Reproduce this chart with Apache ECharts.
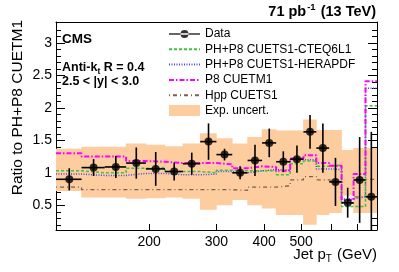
<!DOCTYPE html>
<html><head><meta charset="utf-8">
<script src="https://cdn.jsdelivr.net/npm/echarts@6/dist/echarts.min.js"></script>
<style>html,body{margin:0;padding:0;background:#fff}#c{width:399px;height:272px}</style>
</head><body><div id="c"></div>
<script>
// ---- data (jet pT bins in GeV, ratios) ----
const binEdges = [114,133,153,174,196,220,245,272,300,330,362,395,430,468,507,548,592,638,686,737,790];
const dataRatio = [0.90,1.08,1.09,1.15,1.06,1.02,1.14,1.48,1.28,1.00,1.19,1.46,1.17,1.21,1.63,1.38,0.86,0.54,0.89,0.63];
const dataErr   = [0.17,0.13,0.17,0.24,0.26,0.14,0.17,0.28,0.09,0.10,0.24,0.22,0.16,0.21,0.26,0.38,0.37,0.23,0.66,1.00];
const bandHigh  = [1.37,1.40,1.40,1.45,1.43,1.41,1.45,1.61,1.53,1.45,1.55,1.67,1.65,1.65,1.82,1.66,1.66,1.35,1.38,1.38];
const bandLow   = [0.72,0.62,0.62,0.60,0.61,0.62,0.60,0.43,0.50,0.58,0.50,0.45,0.35,0.35,0.20,0.35,0.38,0.65,0.38,0.38];
const cteq      = [1.03,1.00,1.00,1.07,1.08,1.02,1.02,1.00,1.04,1.03,1.03,1.03,0.97,1.14,1.18,1.10,1.12,0.48,0.48,2.03];
const hera      = [0.98,0.96,0.96,0.99,0.99,0.97,0.97,0.98,1.02,1.00,1.03,1.05,1.04,1.20,1.20,1.06,1.05,0.60,0.63,2.30];
const p8        = [1.30,1.25,1.25,1.18,1.17,1.15,1.15,1.15,1.13,1.07,1.10,1.09,1.03,1.22,1.27,1.15,1.11,0.58,0.98,2.41];
const hpp       = [0.78,0.74,0.74,0.74,0.74,0.74,0.74,0.74,0.74,0.73,0.78,0.78,0.80,0.89,0.94,0.89,0.86,0.53,0.63,0.90];
const xLabelValues = [200,300,400,500];
const xTickValues  = [200,300,400,500,600,700];
const yLabelValues = [0.5,1,1.5,2,2.5,3];
const yMinorValues = [0.2,0.3,0.4,0.6,0.7,0.8,0.9,1.1,1.2,1.3,1.4,1.6,1.7,1.8,1.9,2.1,2.2,2.3,2.4,2.6,2.7,2.8,2.9,3.1,3.2];
const legendNames = ['Data','PH+P8 CUETS1-CTEQ6L1','PH+P8 CUETS1-HERAPDF','P8 CUETM1','Hpp CUETS1','Exp. uncert.'];

const F = '"Liberation Sans", Arial, Helvetica, sans-serif';
const lg = v => Math.log10(v);
const X0 = lg(binEdges[0]), X1 = lg(binEdges[binEdges.length-1]);
const YMIN = 0.12, YMAX = 3.32;

function stepPoints(vals){
  const pts = vals.map((v,i)=>[lg(binEdges[i]), v]);
  pts.push([lg(binEdges[binEdges.length-1]), vals[vals.length-1]]);
  return pts;
}
const bins = dataRatio.map((v,i)=>({lo:binEdges[i], hi:binEdges[i+1]}));
const noSym = {color:'rgba(0,0,0,0)', borderColor:'rgba(0,0,0,0)', borderWidth:0};

const chart = echarts.init(document.getElementById('c'), null, {renderer:'canvas'});
const yCommon = {type:'value', min:YMIN, max:YMAX, splitLine:{show:false}, gridIndex:0};
const option = {
  animation:false,
  backgroundColor:'#fff',
  grid:{left:56, right:22, top:22, bottom:42, containLabel:false, outerBoundsMode:'none'},
  xAxis:[
    {type:'value', min:X0, max:X1, position:'bottom',
     axisLine:{show:true, onZero:false, lineStyle:{color:'#000', width:1}},
     axisTick:{show:true, inside:true, length:6, customValues:xTickValues.map(lg), lineStyle:{color:'#000'}},
     axisLabel:{show:true, customValues:xLabelValues.map(lg), formatter:v=>String(Math.round(Math.pow(10,v))),
       color:'#000', fontSize:14, fontFamily:F, margin:5},
     splitLine:{show:false}},
    {type:'value', min:X0, max:X1, position:'top',
     axisLine:{show:true, onZero:false, lineStyle:{color:'#000', width:1}},
     axisTick:{show:false}, axisLabel:{show:false}, splitLine:{show:false}}
  ],
  yAxis:[
    Object.assign({}, yCommon, {position:'left',
      axisLine:{show:true, onZero:false, lineStyle:{color:'#000'}},
      axisTick:{show:true, inside:true, length:9, customValues:yLabelValues, lineStyle:{color:'#000'}},
      axisLabel:{show:true, customValues:yLabelValues, color:'#000', fontSize:14, fontFamily:F, margin:4}}),
    Object.assign({}, yCommon, {position:'left',
      axisLine:{show:false},
      axisTick:{show:true, inside:true, length:5, customValues:yMinorValues, lineStyle:{color:'#000'}},
      axisLabel:{show:false}}),
    Object.assign({}, yCommon, {position:'right',
      axisLine:{show:true, onZero:false, lineStyle:{color:'#000'}},
      axisTick:{show:true, inside:true, length:9, customValues:yLabelValues, lineStyle:{color:'#000'}},
      axisLabel:{show:false}}),
    Object.assign({}, yCommon, {position:'right',
      axisLine:{show:false},
      axisTick:{show:true, inside:true, length:5, customValues:yMinorValues, lineStyle:{color:'#000'}},
      axisLabel:{show:false}})
  ],
  legend:{
    orient:'vertical', left:168, top:28, padding:0, itemWidth:31, itemHeight:11, itemGap:3.3,
    textStyle:{fontSize:12, fontFamily:F, color:'#000', lineHeight:11},
    selectedMode:false,
    data:[
      {name:legendNames[0], icon:'path://M0,0h0.05v0.05h-0.05z M0,11h0.05v-0.05h-0.05z M0,4.8h31v1.4h-31z M11.5,5.5a4,4 0 1,0 8,0a4,4 0 1,0 -8,0z'},
      {name:legendNames[1], itemStyle:noSym},{name:legendNames[2], itemStyle:noSym},
      {name:legendNames[3], itemStyle:noSym},{name:legendNames[4], itemStyle:noSym},
      {name:legendNames[5], icon:'rect'}
    ]
  },
  series:[
    {type:'custom', name:legendNames[5], xAxisIndex:0, yAxisIndex:0, z:1, clip:true,
     itemStyle:{color:'#fdcc9f'},
     data: bins.map((b,i)=>[lg(b.lo), lg(b.hi), bandLow[i], bandHigh[i]]),
     encode:{x:[0,1], y:[2,3]},
     renderItem:(params, api)=>{
       const a = api.coord([api.value(0), api.value(3)]);
       const b = api.coord([api.value(1), api.value(2)]);
       return {type:'rect', shape:{x:a[0]-0.3, y:a[1], width:b[0]-a[0]+0.6, height:b[1]-a[1]},
               style:{fill:'#fdcc9f'}};
     }},
    {type:'line', name:legendNames[4], step:'end', symbol:'none', z:3, data:stepPoints(hpp),
     lineStyle:{color:'#7d5f4f', width:1.3, type:[1,3,4,3]}, itemStyle:{color:'#7d5f4f'}},
    {type:'line', name:legendNames[2], step:'end', symbol:'none', z:3, data:stepPoints(hera),
     lineStyle:{color:'#4a4aee', width:1.5, type:[1,1.5]}, itemStyle:{color:'#4a4aee'}},
    {type:'line', name:legendNames[1], step:'end', symbol:'none', z:3, data:stepPoints(cteq),
     lineStyle:{color:'#3ec43e', width:1.5, type:[3,2]}, itemStyle:{color:'#3ec43e'}},
    {type:'line', name:legendNames[3], step:'end', symbol:'none', z:4, data:stepPoints(p8),
     lineStyle:{color:'#ff00ff', width:2, type:[5,2,1.5,2]}, itemStyle:{color:'#ff00ff'}},
    {type:'custom', name:'DataErr', z:8, clip:true,
     data: bins.map((b,i)=>[lg(b.lo), lg(b.hi), lg((b.lo+b.hi)/2), dataRatio[i], dataErr[i]]),
     encode:{x:[0,1], y:3},
     renderItem:(params, api)=>{
       const x0=api.value(0), x1=api.value(1), xc=api.value(2), y=api.value(3), e=api.value(4);
       const a=api.coord([x0,y]), b=api.coord([x1,y]), t=api.coord([xc,y+e]), d=api.coord([xc,Math.max(y-e,YMIN)]);
       return {type:'group', children:[
         {type:'line', shape:{x1:a[0],y1:a[1],x2:b[0],y2:b[1]}, style:{stroke:'#000', lineWidth:1.6}},
         {type:'line', shape:{x1:t[0],y1:t[1],x2:d[0],y2:d[1]}, style:{stroke:'#000', lineWidth:1.6}}
       ]};
     }},
    {type:'scatter', name:legendNames[0], z:10, symbol:'circle', symbolSize:8,
     itemStyle:{color:'#000'},
     data: bins.map((b,i)=>[lg((b.lo+b.hi)/2), dataRatio[i]])}
  ],
  graphic:[
    {type:'text', x:376, y:12, style:{text:'{b|71 pb}{p|-1}{b| (13 TeV)}', align:'right', textAlign:'right', verticalAlign:'middle', textVerticalAlign:'middle',
      rich:{b:{fontSize:14.5, fontWeight:'bold', fontFamily:F, fill:'#000'}, p:{fontSize:9.5, fontWeight:'bold', fontFamily:F, fill:'#000', padding:[0,1,9,1]}}}},
    {type:'text', x:62, y:39, style:{text:'CMS', font:'bold 13.5px '+F, fill:'#000', align:'left', verticalAlign:'middle', textVerticalAlign:'middle'}},
    {type:'text', x:62, y:68, style:{text:'{b|Anti-k}{s|t}{b| R = 0.4}', align:'left', verticalAlign:'middle', textVerticalAlign:'middle',
      rich:{b:{fontSize:12.5, fontWeight:'bold', fontFamily:F, fill:'#000'}, s:{fontSize:8.5, fontWeight:'bold', fontFamily:F, fill:'#000', padding:[8,0,0,0]}}}},
    {type:'text', x:62, y:82, style:{text:'2.5 < |y| < 3.0', font:'bold 12.5px '+F, fill:'#000', align:'left', verticalAlign:'middle', textVerticalAlign:'middle'}},
    {type:'text', x:377, y:255, style:{text:'{n|Jet p}{s|T}{n| (GeV)}', align:'right', textAlign:'right', verticalAlign:'middle', textVerticalAlign:'middle',
      rich:{n:{fontSize:15, fontFamily:F, fill:'#000'}, s:{fontSize:10, fontFamily:F, fill:'#000', padding:[8,1,0,0]}}}},
    {type:'text', x:18, y:20, rotation:Math.PI/2, style:{text:'Ratio to PH+P8 CUETM1', font:'15.5px '+F, fill:'#000', align:'right', textAlign:'right', verticalAlign:'middle', textVerticalAlign:'middle'}}
  ]
};
chart.setOption(option);
</script>
</body></html>
